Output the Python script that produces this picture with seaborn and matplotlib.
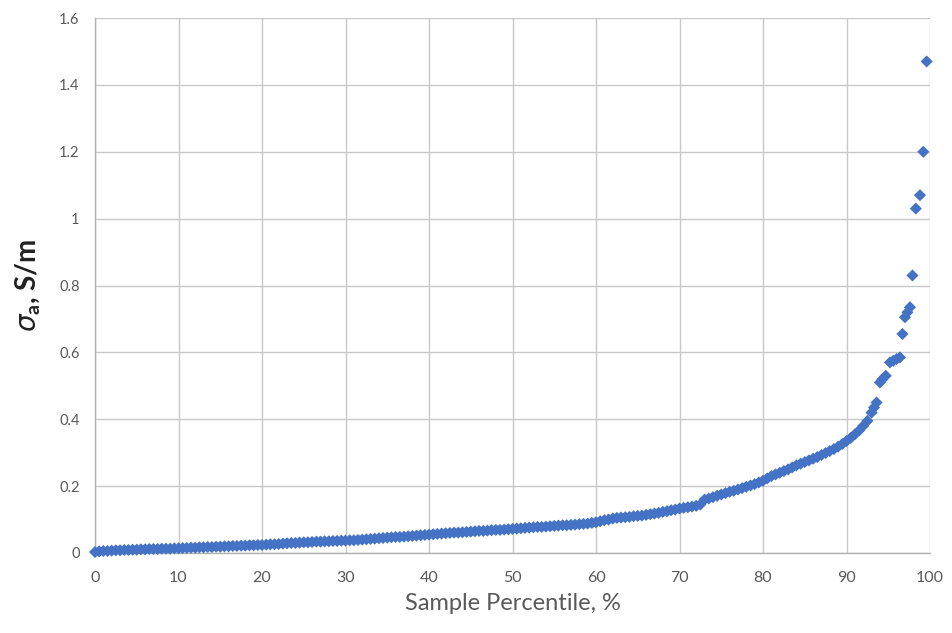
import matplotlib
matplotlib.use("Agg")
import matplotlib.pyplot as plt
import seaborn as sns
import pandas as pd

# ---- data ----
percentile_dense = [
    0.0, 0.5, 1.0, 1.5, 2.0, 2.5, 3.0, 3.5, 4.0, 4.5, 5.0, 5.5, 6.0, 6.5, 7.0, 7.5, 8.0, 8.5, 9.0, 9.5,
    10.0, 10.5, 11.0, 11.5, 12.0, 12.5, 13.0, 13.5, 14.0, 14.5, 15.0, 15.5, 16.0, 16.5, 17.0, 17.5, 18.0, 18.5, 19.0, 19.5,
    20.0, 20.5, 21.0, 21.5, 22.0, 22.5, 23.0, 23.5, 24.0, 24.5, 25.0, 25.5, 26.0, 26.5, 27.0, 27.5, 28.0, 28.5, 29.0, 29.5,
    30.0, 30.5, 31.0, 31.5, 32.0, 32.5, 33.0, 33.5, 34.0, 34.5, 35.0, 35.5, 36.0, 36.5, 37.0, 37.5, 38.0, 38.5, 39.0, 39.5,
    40.0, 40.5, 41.0, 41.5, 42.0, 42.5, 43.0, 43.5, 44.0, 44.5, 45.0, 45.5, 46.0, 46.5, 47.0, 47.5, 48.0, 48.5, 49.0, 49.5,
    50.0, 50.5, 51.0, 51.5, 52.0, 52.5, 53.0, 53.5, 54.0, 54.5, 55.0, 55.5, 56.0, 56.5, 57.0, 57.5, 58.0, 58.5, 59.0, 59.5,
    60.0, 60.5, 61.0, 61.5, 62.0, 62.5, 63.0, 63.5, 64.0, 64.5, 65.0, 65.5, 66.0, 66.5, 67.0, 67.5, 68.0, 68.5, 69.0, 69.5,
    70.0, 70.5, 71.0, 71.5, 72.0, 72.5, 73.0, 73.5, 74.0, 74.5, 75.0, 75.5, 76.0, 76.5, 77.0, 77.5, 78.0, 78.5, 79.0, 79.5,
    80.0, 80.5, 81.0, 81.5, 82.0, 82.5, 83.0, 83.5, 84.0, 84.5, 85.0, 85.5, 86.0, 86.5, 87.0, 87.5, 88.0, 88.5, 89.0, 89.5,
    90.0, 90.5, 91.0, 91.5, 92.0,
]
sigma_dense = [
    0.003, 0.005, 0.006, 0.006, 0.007, 0.008, 0.008, 0.009, 0.009, 0.010, 0.010, 0.011, 0.011, 0.012, 0.012, 0.012, 0.013, 0.013, 0.013, 0.014,
    0.014, 0.015, 0.015, 0.016, 0.016, 0.017, 0.017, 0.018, 0.018, 0.019, 0.019, 0.020, 0.020, 0.021, 0.021, 0.022, 0.022, 0.023, 0.023, 0.024,
    0.024, 0.025, 0.026, 0.026, 0.027, 0.028, 0.029, 0.030, 0.030, 0.031, 0.032, 0.032, 0.033, 0.034, 0.034, 0.035, 0.035, 0.036, 0.036, 0.037,
    0.037, 0.038, 0.038, 0.039, 0.040, 0.041, 0.042, 0.043, 0.044, 0.045, 0.046, 0.047, 0.048, 0.048, 0.049, 0.050, 0.051, 0.052, 0.053, 0.054,
    0.055, 0.056, 0.057, 0.058, 0.059, 0.060, 0.061, 0.061, 0.062, 0.063, 0.064, 0.065, 0.066, 0.066, 0.067, 0.068, 0.069, 0.069, 0.070, 0.071,
    0.072, 0.073, 0.074, 0.075, 0.076, 0.077, 0.078, 0.078, 0.079, 0.080, 0.081, 0.082, 0.083, 0.083, 0.084, 0.085, 0.086, 0.087, 0.088, 0.090,
    0.092, 0.095, 0.098, 0.100, 0.103, 0.105, 0.106, 0.107, 0.108, 0.110, 0.111, 0.112, 0.114, 0.116, 0.118, 0.120, 0.123, 0.125, 0.128, 0.130,
    0.133, 0.135, 0.137, 0.139, 0.141, 0.145, 0.160, 0.163, 0.167, 0.171, 0.175, 0.179, 0.183, 0.186, 0.190, 0.194, 0.198, 0.202, 0.206, 0.211,
    0.216, 0.223, 0.230, 0.235, 0.240, 0.245, 0.250, 0.256, 0.262, 0.267, 0.272, 0.277, 0.282, 0.287, 0.293, 0.299, 0.305, 0.311, 0.318, 0.326,
    0.335, 0.344, 0.355, 0.366, 0.380,
]
percentile_tail = [92.5, 93.0, 93.3, 93.6, 94.0, 94.3, 94.7, 95.2, 95.6, 96.0, 96.4, 96.7, 97.0, 97.3, 97.6, 97.9, 98.3, 98.8, 99.2, 99.6]
sigma_tail = [0.395, 0.420, 0.435, 0.450, 0.510, 0.520, 0.530, 0.570, 0.575, 0.580, 0.585, 0.655, 0.705, 0.720, 0.735, 0.830, 1.030, 1.070, 1.200, 1.470]

x_ticks = [0, 10, 20, 30, 40, 50, 60, 70, 80, 90, 100]
y_ticks = [0, 0.2, 0.4, 0.6, 0.8, 1.0, 1.2, 1.4, 1.6]
y_tick_labels = ["0", "0.2", "0.4", "0.6", "0.8", "1", "1.2", "1.4", "1.6"]
x_label = "Sample Percentile, %"
y_label = r"$\sigma_{\mathrm{a}}$, S/m"

df = pd.DataFrame({
    "percentile": percentile_dense + percentile_tail,
    "sigma": sigma_dense + sigma_tail,
})

sns.set_theme(style="white")
plt.rcParams["font.family"] = ["Lato", "DejaVu Sans"]
plt.rcParams["mathtext.fontset"] = "custom"
plt.rcParams["mathtext.it"] = "DejaVu Sans:italic"
plt.rcParams["mathtext.rm"] = "Lato:bold"

fig = plt.figure(figsize=(9.52, 6.33), dpi=100)
ax = fig.add_axes([95 / 952, 1 - 553 / 633, (930 - 95) / 952, (553 - 18) / 633])

grid_color = "#c8c8c8"
text_color = "#595959"

sns.scatterplot(data=df, x="percentile", y="sigma", marker="D", s=38,
                color="#4472C4", edgecolor="none", linewidth=0, ax=ax, zorder=3,
                clip_on=False)

ax.set_xlim(0, 100)
ax.set_ylim(0, 1.6)
ax.set_xticks(x_ticks)
ax.set_yticks(y_ticks)
ax.set_yticklabels(y_tick_labels)
ax.grid(True, color=grid_color, linewidth=1.0)
ax.set_axisbelow(True)
for side in ["top", "right"]:
    ax.spines[side].set_visible(False)
for side in ["left", "bottom"]:
    ax.spines[side].set_color("#b0b0b0")
    ax.spines[side].set_linewidth(1.0)
ax.tick_params(axis="y", which="major", length=5, width=1.0, color="#b0b0b0",
               labelsize=10.5, labelcolor=text_color, direction="out", pad=6)
ax.tick_params(axis="x", which="major", length=4, width=1.0, color="#b0b0b0",
               labelsize=11.5, labelcolor=text_color, direction="out", pad=9)

ax.set_xlabel(x_label, fontsize=17, color=text_color, labelpad=6)
ax.set_ylabel(y_label, fontsize=20, color="#222222", fontweight="bold", labelpad=12)

fig.savefig("out.png", dpi=100, facecolor="white")
